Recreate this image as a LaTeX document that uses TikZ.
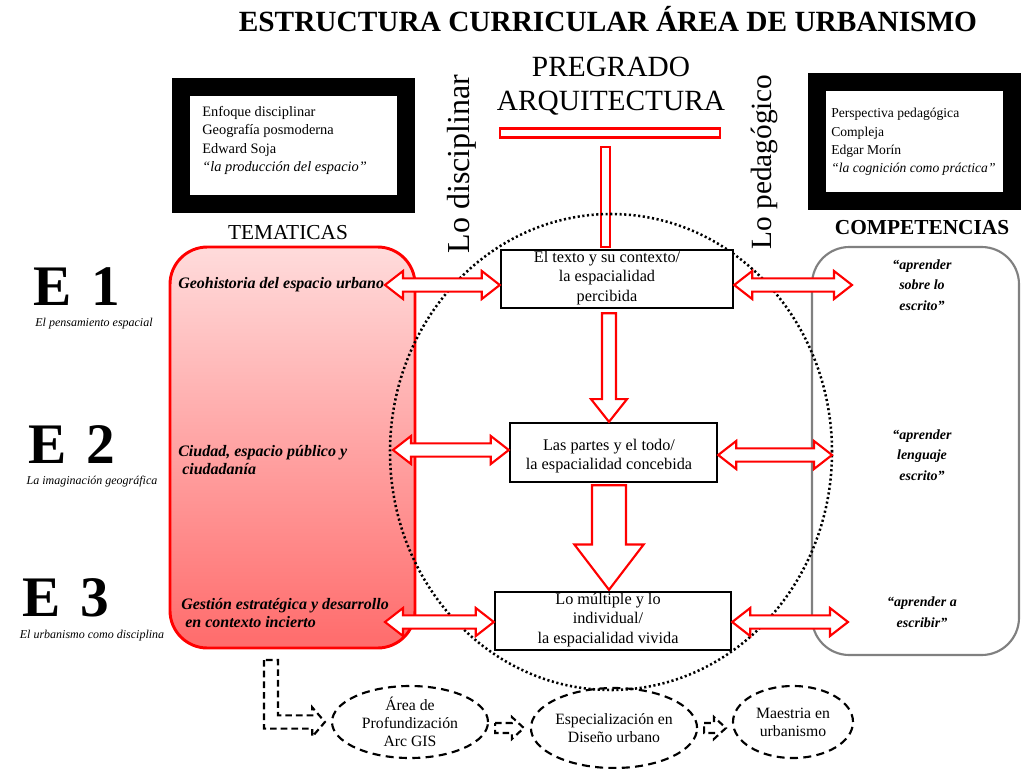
\documentclass[tikz,border=0pt]{standalone}
\usepackage{fontspec}
\setmainfont{Liberation Serif}
\usetikzlibrary{calc,shapes.geometric}

\tikzset{
  hollowred/.style={draw=red, line width=1.6pt, fill=white, line join=miter},
  hollowdash/.style={draw=black, line width=1.6pt, fill=white, dash pattern=on 5pt off 3pt},
  redbar/.style={draw=red, line width=1.8pt, fill=white, inner sep=0pt},
  frame/.style={draw=black, line width=13.5pt, inner sep=0pt},
  stagebox/.style={draw=black, line width=1.8pt, fill=white, inner sep=0pt},
  txt/.style={inner sep=0pt, align=center},
  eje/.style={inner sep=0pt, font=\bfseries\fontsize{43}{43}\selectfont},
  ejesub/.style={inner sep=0pt, font=\itshape\fontsize{9}{10}\selectfont},
  tema/.style={inner sep=0pt, align=left, anchor=west, font=\bfseries\itshape\fontsize{12}{14}\selectfont},
  comp/.style={inner sep=0pt, align=center, font=\bfseries\itshape\fontsize{10.5}{15.5}\selectfont},
  centertxt/.style={inner sep=0pt, align=center, font=\fontsize{12.2}{14.5}\selectfont},
  frametxt/.style={inner sep=0pt, align=left, anchor=west, font=\fontsize{10.8}{13.7}\selectfont},
  route/.style={ellipse, draw=black, line width=1.6pt, dash pattern=on 6pt off 4pt, inner sep=0pt, align=center, font=\fontsize{11.8}{13.5}\selectfont}
}

% horizontal hollow double arrow, kept at the height of the first point
\newcommand\dblarrow[2]{%
  \draw[hollowred] let \p1=(#1), \p2=(#2) in
    (\x1,\y1) -- (\x1+13.5pt,\y1+10.5pt) -- (\x1+13.5pt,\y1+5pt)
    -- (\x2-13.5pt,\y1+5pt) -- (\x2-13.5pt,\y1+10.5pt) -- (\x2,\y1)
    -- (\x2-13.5pt,\y1-10.5pt) -- (\x2-13.5pt,\y1-5pt)
    -- (\x1+13.5pt,\y1-5pt) -- (\x1+13.5pt,\y1-10.5pt) -- cycle;}

% downward hollow arrow: start, tip, shaft half-width, head half-width, head length
\newcommand\downarrowbox[5]{%
  \draw[hollowred] let \p1=(#1), \p2=(#2) in
    (\x1-#3,\y1) -- (\x1+#3,\y1) -- (\x1+#3,\y2+#5) -- (\x1+#4,\y2+#5)
    -- (\x1,\y2) -- (\x1-#4,\y2+#5) -- (\x1-#3,\y2+#5) -- cycle;}

% dashed hollow arrow between two nodes of the lower route
\newcommand\dashedstep[2]{%
  \draw[hollowdash] let \p1=(#1), \p2=(#2) in
    (\x1+4.5pt,\y1+3.75pt) -- (\x2-13.5pt,\y1+3.75pt) -- (\x2-13.5pt,\y1+8.25pt)
    -- (\x2-4.5pt,\y1) -- (\x2-13.5pt,\y1-8.25pt) -- (\x2-13.5pt,\y1-3.75pt)
    -- (\x1+4.5pt,\y1-3.75pt) -- cycle;}

\begin{document}
\begin{tikzpicture}[x=0.75pt,y=-0.75pt]
\useasboundingbox (0,0) rectangle (1021,768);
\fill[white] (0,0) rectangle (1021,768);

% title and programme
\node[txt, font=\bfseries\fontsize{22}{25}\selectfont] (title) at (608,19) {ESTRUCTURA CURRICULAR ÁREA DE URBANISMO};
\node[txt, font=\fontsize{22}{25}\selectfont] (pregrado) at (611,86) {PREGRADO\\ARQUITECTURA};
\node[redbar, minimum width=165pt, minimum height=6.5pt] (tbar) at (610,133) {};
\node[redbar, minimum width=7pt, minimum height=75pt, anchor=north] (tstem) at (605.5,146) {};

\node[txt, rotate=90, font=\fontsize{24}{28}\selectfont] (disc) at (462,164) {Lo disciplinar};
\node[txt, rotate=90, font=\fontsize{22}{28}\selectfont] (peda) at (764,162) {Lo pedagógico};

% framed references
\node[frame, minimum width=168.75pt, minimum height=87.75pt] (fleft) at (293.5,145.5) {};
\node[frametxt] (fleftt) at (202,140.5) {Enfoque disciplinar\\Geografía posmoderna\\Edward Soja\\\textit{“la producción del espacio”}};
\node[frame, minimum width=146.25pt, minimum height=89.25pt] (fright) at (914.5,141.5) {};
\node[frametxt, font=\fontsize{10.2}{13.7}\selectfont] (frightt) at (831,142) {Perspectiva pedagógica\\Compleja\\Edgar Morín\\\textit{“la cognición como práctica”}};

\node[txt, font=\fontsize{16}{18}\selectfont] (temh) at (288,233) {TEMATICAS};
\node[txt, font=\bfseries\fontsize{16}{18}\selectfont] (comph) at (922,228) {COMPETENCIAS};

% side panels
\node[draw=red, line width=2.2pt, rounded corners=28pt, top color=red!14, bottom color=red!58,
      minimum width=183.75pt, minimum height=300.75pt] (tem) at (292.5,447.5) {};
\node[draw=black!50, line width=1.6pt, rounded corners=28pt, fill=white,
      minimum width=155.25pt, minimum height=306pt] (comp) at (915.5,451) {};

% dotted orbit
\node[ellipse, draw=black, line width=1.9pt, dash pattern=on 1.6pt off 1.9pt, inner sep=0pt,
      minimum width=331.5pt, minimum height=357pt] (orbit) at (611,452) {};

% axes
\node[eje] (e1) at (77,287) {E\,\,1};
\node[ejesub] (e1s) at (94,324) {El pensamiento espacial};
\node[eje] (e2) at (72,445) {E\,\,2};
\node[ejesub] (e2s) at (92,482) {La imaginación geográfica};
\node[eje] (e3) at (66,598) {E\,\,3};
\node[ejesub] (e3s) at (92,636) {El urbanismo como disciplina};

% themes
\node[tema] (t1) at (178,285) {Geohistoria del espacio urbano};
\node[tema] (t2) at (178,460) {Ciudad, espacio público y\\\hspace*{3pt}ciudadanía};
\node[tema] (t3) at (181,613) {Gestión estratégica y desarrollo\\\hspace*{3pt}en contexto incierto};

% central stages
\node[stagebox, minimum width=174pt, minimum height=43.5pt] (b1) at (617,279) {};
\node[centertxt] (b1t) at (607,278) {El texto y su contexto/\\la espacialidad\\percibida};
\node[stagebox, minimum width=155.25pt, minimum height=44.25pt] (b2) at (613.5,452.5) {};
\node[centertxt] (b2t) at (609,456) {Las partes y el todo/\\la espacialidad concebida};
\node[stagebox, minimum width=177pt, minimum height=43.5pt] (b3) at (613,621) {};
\node[centertxt] (b3t) at (608,620) {Lo múltiple y lo\\individual/\\la espacialidad vivida};

% competences
\node[comp] (c1) at (922,285) {“aprender\\sobre lo\\escrito”};
\node[comp] (c2) at (922,455) {“aprender\\lenguaje\\escrito”};
\node[comp] (c3) at (922,612) {“aprender a\\escribir”};

% free ends of the horizontal arrows
\coordinate (l1) at (385,285);
\coordinate (l2) at (393,450);
\coordinate (l3) at (385,622);
\coordinate (r1) at (852,285);
\coordinate (r2) at (832,455);
\coordinate (r3) at (848,622);

\dblarrow{l1}{b1.west}
\dblarrow{l2}{b2.west}
\dblarrow{l3}{b3.west}
\dblarrow{b1.east |- r1}{r1}
\dblarrow{b2.east |- r2}{r2}
\dblarrow{b3.east |- r3}{r3}

% downward flow between stages
\downarrowbox{$(b1.south -| b2t)+(0,4)$}{b2.north -| b2t}{5.25pt}{13.5pt}{17pt}
\downarrowbox{$(b2.south -| b2t)+(0,2)$}{$(b3.north -| b2t)+(0,-1)$}{12.75pt}{26pt}{34pt}

% postgraduate route
\node[route, minimum width=117pt, minimum height=54pt] (p1) at (410,722) {Área de\\Profundización\\Arc GIS};
\node[route, minimum width=112.5pt, minimum height=60pt] (p2) at (614,728) {Especialización en\\Diseño urbano};
\node[route, minimum width=90pt, minimum height=54pt] (p3) at (793,722) {Maestria en\\urbanismo};

\coordinate (lt) at (271,660);
\draw[hollowdash] let \p1=(lt), \p2=(p1.west) in
  (\x1-5.25pt,\y1) -- (\x1-5.25pt,\y2-5pt) -- (\x2-14pt,\y2-5pt) -- (\x2-14pt,\y2-11pt)
  -- (\x2-4.5pt,\y2) -- (\x2-14pt,\y2+11pt) -- (\x2-14pt,\y2+5pt)
  -- (\x1+5.25pt,\y2+5pt) -- (\x1+5.25pt,\y1) -- cycle;
\dashedstep{p1.east |- p2}{p2.west}
\dashedstep{p2.east}{p3.west}
\end{tikzpicture}
\end{document}
